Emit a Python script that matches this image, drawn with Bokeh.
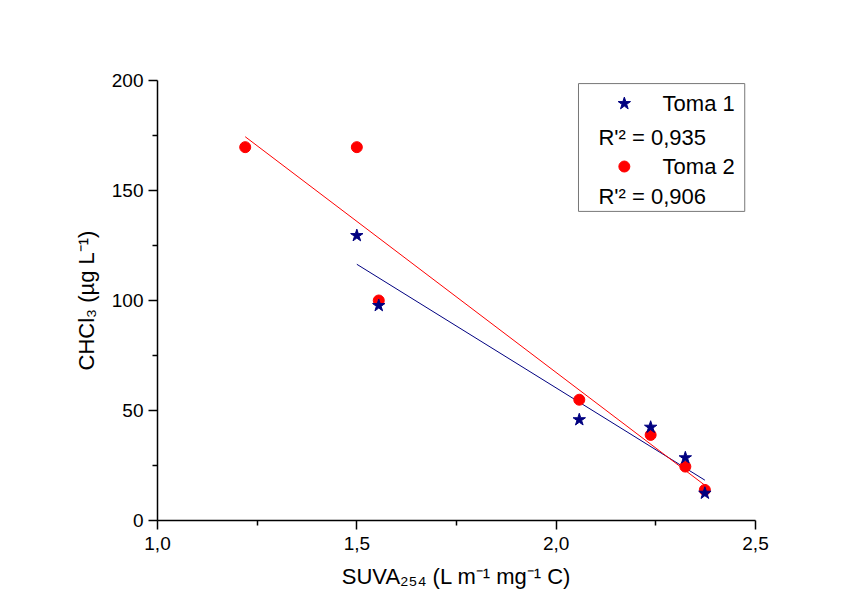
import numpy as np
from bokeh.plotting import figure
from bokeh.models import FixedTicker, Label
from bokeh.embed import file_html
from bokeh.resources import INLINE

# ---- data ----
suva_t1 = [1.50, 1.555, 2.058, 2.237, 2.324, 2.373]
chcl3_t1 = [129.5, 97.7, 45.8, 42.4, 28.5, 12.4]
suva_t2 = [1.22, 1.50, 1.555, 2.058, 2.237, 2.324, 2.373]
chcl3_t2 = [169.7, 169.7, 100.0, 54.9, 38.9, 24.5, 13.9]

x_ticks = [1.0, 1.5, 2.0, 2.5]
x_tick_labels = ["1,0", "1,5", "2,0", "2,5"]
x_minor = [1.25, 1.75, 2.25]
y_ticks = [0, 50, 100, 150, 200]
y_minor = [25, 75, 125, 175]

labels = ["Toma 1", "Toma 2"]
r2_texts = ["R'\u00b2 = 0,935", "R'\u00b2 = 0,906"]

FONT = "Liberation Sans"
BLUE = "#000080"
RED = "#ff0000"

p = figure(width=857, height=596, x_range=(1.0, 2.5), y_range=(0, 200),
           output_backend="svg", toolbar_location=None,
           min_border_left=157, min_border_right=102,
           min_border_top=80, min_border_bottom=76)
p.outline_line_color = None
p.grid.visible = False
p.background_fill_color = "white"
p.border_fill_color = "white"

p.xaxis.ticker = FixedTicker(ticks=x_ticks, minor_ticks=x_minor)
p.xaxis.major_label_overrides = {t: l for t, l in zip(x_ticks, x_tick_labels)}
p.yaxis.ticker = FixedTicker(ticks=y_ticks, minor_ticks=y_minor)

for ax in (p.xaxis, p.yaxis):
    ax.axis_line_width = 1.5
    ax.axis_line_color = "black"
    ax.major_tick_line_width = 1.5
    ax.minor_tick_line_width = 1.5
    ax.major_tick_line_color = "black"
    ax.minor_tick_line_color = "black"
    ax.major_tick_out = 9
    ax.major_tick_in = 0
    ax.minor_tick_out = 5
    ax.minor_tick_in = 0
    ax.major_label_text_font = FONT
    ax.major_label_text_font_size = "19px"
    ax.major_label_text_color = "black"
    ax.axis_label_text_font = FONT
    ax.axis_label_text_font_size = "22px"
    ax.axis_label_text_font_style = "normal"
    ax.axis_label_text_color = "black"

p.xaxis.axis_label = "SUVA\u2082\u2085\u2084 (L m\u207b\u00b9 mg\u207b\u00b9 C)"
p.yaxis.axis_label = "CHCl\u2083 (\u00b5g L\u207b\u00b9)"
p.xaxis.major_label_standoff = 7
p.yaxis.major_label_standoff = 5
p.xaxis.axis_label_standoff = 11
p.yaxis.axis_label_standoff = 10

# regression lines from the data
for xs, ys, col in ((suva_t1, chcl3_t1, BLUE), (suva_t2, chcl3_t2, RED)):
    m, b = np.polyfit(xs, ys, 1)
    xl = np.array([min(xs), max(xs)])
    p.line(xl, m * xl + b, line_color=col, line_width=1)

p.scatter(suva_t2, chcl3_t2, marker="circle", size=11, fill_color=RED, line_color=RED)
p.scatter(suva_t1, chcl3_t1, marker="star", size=13, fill_color=BLUE, line_color=BLUE)

# legend box (placed in data coordinates)
p.quad(left=[2.056], right=[2.473], top=[198.6], bottom=[140.5],
       fill_color="white", fill_alpha=1.0, line_color="#777777", line_width=1)
p.scatter([2.171], [189.5], marker="star", size=13, fill_color=BLUE, line_color=BLUE)
p.scatter([2.171], [160.9], marker="circle", size=11, fill_color=RED, line_color=RED)
for txt, yy in ((labels[0], 189.5), (labels[1], 160.9)):
    p.add_layout(Label(x=2.267, y=yy, text=txt, text_font=FONT, text_font_size="22px",
                       text_baseline="middle", text_color="black"))
for txt, yy in ((r2_texts[0], 174.1), (r2_texts[1], 147.3)):
    p.add_layout(Label(x=2.106, y=yy, text=txt, text_font=FONT, text_font_size="22px",
                       text_baseline="middle", text_color="black"))

open("out.html", "w").write(file_html(p, INLINE))
